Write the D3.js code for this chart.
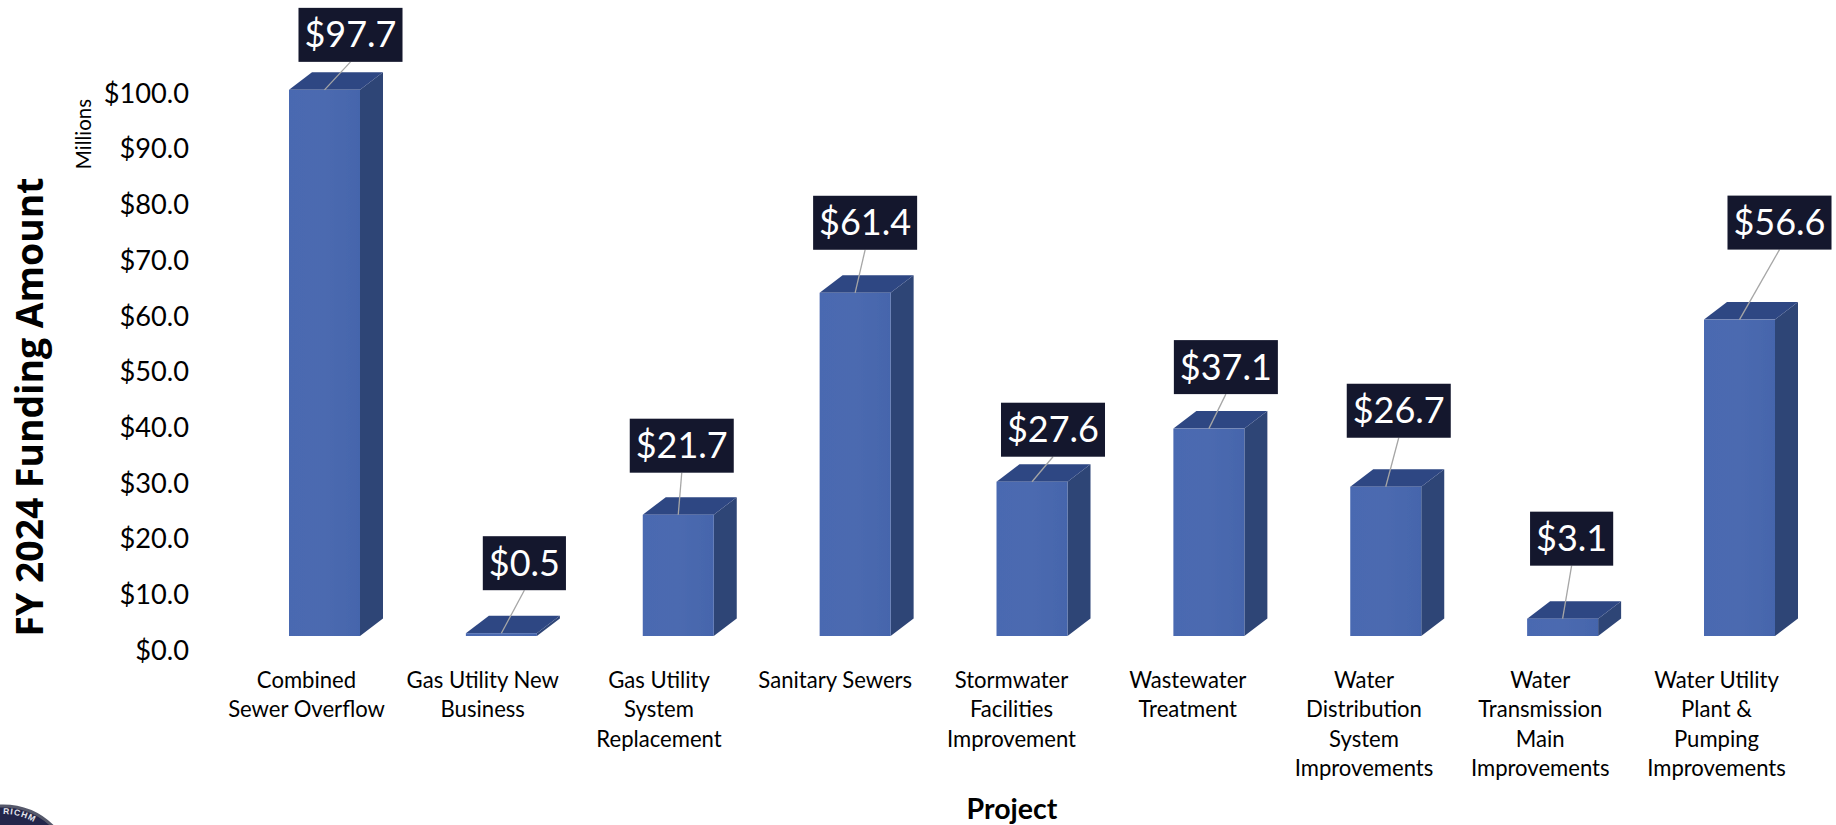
<!DOCTYPE html>
<html><head><meta charset="utf-8">
<script src="https://cdn.jsdelivr.net/npm/d3@7"></script>
<style>html,body{margin:0;background:#fff}svg{display:block}</style>
</head><body><svg id="c" width="1836" height="825"></svg>
<script>
const categories = [
  ["Combined","Sewer Overflow"],
  ["Gas Utility New","Business"],
  ["Gas Utility","System","Replacement"],
  ["Sanitary Sewers"],
  ["Stormwater","Facilities","Improvement"],
  ["Wastewater","Treatment"],
  ["Water","Distribution","System","Improvements"],
  ["Water","Transmission","Main","Improvements"],
  ["Water Utility","Plant &","Pumping","Improvements"]
];
const values = [97.7,0.5,21.7,61.4,27.6,37.1,26.7,3.1,56.6];
const yTicks = [0,10,20,30,40,50,60,70,80,90,100];
const labelDx = [26,23,3.5,10,21,17,13,9,40];
const labelDy = [-55,-70,-69,-70,-52,-61.5,-76,-80,-97];

const FONT = "Lato, Carlito, Calibri, sans-serif";
const svg = d3.select("#c");
const names = categories.map(c => c.join(" "));
const y = d3.scaleLinear().domain([0,100]).range([636,77]);
const x = d3.scalePoint().domain(names).range([324.5,1739.5]);
const xLab = d3.scalePoint().domain(names).range([306,1716]);
const halfW = 35.5, depthX = 23, depthY = 17.5;

// y axis
const yAxis = d3.axisLeft(d3.scaleLinear().domain([0,100]).range([650.5,93.5]))
  .tickValues(yTicks).tickSize(0).tickPadding(0).tickFormat(d => "$"+d.toFixed(1));
const gy = svg.append("g").attr("transform","translate(189,0)").call(yAxis);
gy.select(".domain").remove();
gy.selectAll("text").attr("font-family",FONT).attr("font-size",27.2).attr("fill","#000");

// x axis
const xAxis = d3.axisBottom(xLab).tickSize(0).tickFormat("");
const gx = svg.append("g").attr("transform","translate(0,660)").call(xAxis);
gx.select(".domain").remove();
gx.selectAll(".tick text").each(function(d,i){
  const t = d3.select(this).attr("font-family",FONT).attr("font-size",22.1).attr("fill","#000")
    .attr("text-anchor","middle").attr("y",0).attr("dy",null);
  categories[i].forEach((line,j)=>t.append("tspan").attr("x",0).attr("y",j*29.4+28).text(line));
});

// bars
const defs = svg.append("defs");
const grad = defs.append("linearGradient").attr("id","front")
  .attr("x1",0).attr("x2",1).attr("y1",0).attr("y2",0);
grad.append("stop").attr("offset",0).attr("stop-color","#4a69b1");
grad.append("stop").attr("offset",0.5).attr("stop-color","#4c6ab0");
grad.append("stop").attr("offset",1).attr("stop-color","#4565ac");
defs.append("filter").attr("id","soft").append("feGaussianBlur").attr("stdDeviation",0.5);
const bars = svg.append("g").attr("filter","url(#soft)").selectAll("g").data(values).join("g");
const poly = pts => "M"+pts.map(p=>p.join(",")).join("L")+"Z";
bars.append("path").attr("fill","#2e4476").attr("d",(d,i)=>{
  const r=x(names[i])+halfW, t=y(d), b=y(0);
  return poly([[r,t],[r+depthX,t-depthY],[r+depthX,b-depthY],[r,b]]);
});
bars.append("path").attr("fill","#2f4783").attr("d",(d,i)=>{
  const l=x(names[i])-halfW, r=x(names[i])+halfW, t=y(d);
  return poly([[l,t],[l+depthX,t-depthY],[r+depthX,t-depthY],[r,t]]);
});
bars.append("rect").attr("fill","url(#front)")
  .attr("x",(d,i)=>x(names[i])-halfW).attr("width",halfW*2)
  .attr("y",d=>y(d)).attr("height",d=>y(0)-y(d));

// data labels with leader lines
values.forEach((v,i)=>{
  const ax=x(names[i]), ay=y(v), cx=ax+labelDx[i], cy=ay+labelDy[i];
  const g=svg.append("g");
  g.append("line").attr("x1",cx).attr("y1",cy+27).attr("x2",ax).attr("y2",ay)
    .attr("stroke","#a6a6a6").attr("stroke-width",1.3);
  const r=g.append("rect").attr("fill","#14172d");
  const t=g.append("text").attr("x",cx).attr("y",cy).attr("dy","0.35em").attr("text-anchor","middle")
    .attr("font-family",FONT).attr("font-size",36).attr("fill","#fff").text("$"+v.toFixed(1));
  const w=t.node().getComputedTextLength()+12;
  r.attr("x",cx-w/2).attr("y",cy-27).attr("width",w).attr("height",54);
});

// axis titles
svg.append("text").attr("transform","translate(43,407) rotate(-90)").attr("text-anchor","middle")
  .attr("font-family","'Open Sans', sans-serif").attr("font-weight",700).attr("font-size",37.3).text("FY 2024 Funding Amount");
svg.append("text").attr("transform","translate(91,134) rotate(-90)").attr("text-anchor","middle")
  .attr("font-family",FONT).attr("font-size",20.5).text("Millions");
svg.append("text").attr("x",1012).attr("y",819).attr("text-anchor","middle")
  .attr("font-family",FONT).attr("font-weight",700).attr("font-size",28.5).text("Project");

// seal, cropped by the page edge
const seal=svg.append("g").attr("transform","translate(3,877)");
seal.append("circle").attr("r",71).attr("fill","#23264a").attr("stroke","#55586a").attr("stroke-width",3);
const arc=d3.arc()({innerRadius:63,outerRadius:63,startAngle:0,endAngle:1});
defs.append("path").attr("id","sealArc").attr("d",arc.split("L")[0]);
seal.append("text").attr("font-family","'Liberation Sans', sans-serif").attr("font-weight",700).attr("font-size",8.5)
  .attr("fill","#e8e8ee").attr("letter-spacing",1)
  .append("textPath").attr("href","#sealArc").text("RICHM");
</script></body></html>
